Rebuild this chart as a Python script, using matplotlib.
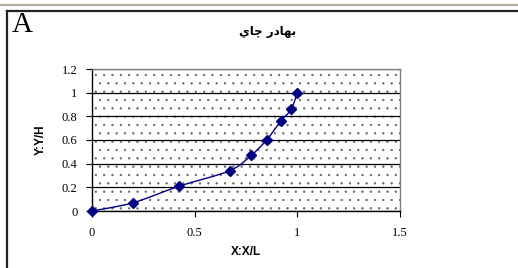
import matplotlib
matplotlib.use("Agg")
import matplotlib.pyplot as plt
import numpy as np
from matplotlib.path import Path
from matplotlib.patches import PathPatch, Rectangle
from matplotlib.lines import Line2D

# data
x_vals = [0.0, 0.20, 0.425, 0.67, 0.775, 0.85, 0.92, 0.97, 1.0]
y_vals = [0.0, 0.07, 0.21, 0.34, 0.47, 0.60, 0.76, 0.86, 1.0]
x_ticks = [0, 0.5, 1, 1.5]
x_tick_labels = ["0", "0.5", "1", "1.5"]
y_ticks = [0, 0.2, 0.4, 0.6, 0.8, 1.0, 1.2]
y_tick_labels = ["0", "0.2", "0.4", "0.6", "0.8", "1", "1.2"]

# title "بهادر چاي", written in shaped presentation forms, visual order
title_text = "\uFEF1\uFE8E\uFB7C \uFEAD\uFEA9\uFE8E\uFEEC\uFE91"
panel_letter = "A"
x_label = "X:X/L"
y_label = "Y:Y/H"

NAVY = "#000080"
plt.rcParams["hatch.linewidth"] = 0.4


def smooth_path(xs, ys):
    # catmull-rom style bezier through the points (like Excel's smoothed line)
    pts = np.column_stack([xs, ys])
    n = len(pts)
    verts = [pts[0]]
    codes = [Path.MOVETO]
    for i in range(n - 1):
        p0 = pts[i - 1] if i > 0 else pts[i]
        p1 = pts[i]
        p2 = pts[i + 1]
        p3 = pts[i + 2] if i + 2 < n else pts[i + 1]
        c1 = p1 + (p2 - p0) / 6.0
        c2 = p2 - (p3 - p1) / 6.0
        verts += [c1, c2, p2]
        codes += [Path.CURVE4] * 3
    return Path(verts, codes)


fig = plt.figure(figsize=(5.18, 2.68), dpi=100)
ax = fig.add_axes([92 / 518, 1 - 211 / 268, 308 / 518, 142 / 268])

bg = Rectangle((0, 0), 1, 1, transform=ax.transAxes, facecolor="white",
               edgecolor="#606060", hatch="..", linewidth=0, zorder=0)
ax.add_patch(bg)

ax.set_xlim(0, 1.5)
ax.set_ylim(0, 1.2)
ax.set_xticks(x_ticks, x_tick_labels, family="Liberation Serif", fontsize=9)
ax.set_yticks(y_ticks, y_tick_labels, family="Liberation Serif", fontsize=9)
ax.tick_params(direction="out", length=4.5, width=0.8, color="black", pad=6)
ax.tick_params(axis="x", pad=7)
ax.yaxis.grid(True, color="black", linewidth=0.9)
ax.set_axisbelow(True)

for side in ("left", "bottom"):
    ax.spines[side].set_color("black")
    ax.spines[side].set_linewidth(1.0)
for side in ("top", "right"):
    ax.spines[side].set_color("#808080")
    ax.spines[side].set_linewidth(1.0)

ax.add_patch(PathPatch(smooth_path(x_vals, y_vals), facecolor="none",
                       edgecolor=NAVY, linewidth=1.0, zorder=3))
ax.plot(x_vals, y_vals, linestyle="none", marker="D", markersize=5,
        color=NAVY, zorder=4, clip_on=False)

ax.set_xlabel(x_label, family="Liberation Sans", fontweight="bold",
              fontsize=8.5, labelpad=5)
ax.set_ylabel(y_label, family="Liberation Sans", fontweight="bold",
              fontsize=8.5, labelpad=11)

fig.text(268 / 518, 1 - 32 / 268, title_text, ha="center", va="center",
         fontsize=8.5, fontweight="bold", family=["DejaVu Sans"])
fig.text(12 / 518, 1 - 25 / 268, panel_letter, ha="left", va="center",
         fontsize=21, family="Liberation Serif")

# page frame around the figure
fig.add_artist(Line2D([0, 1], [1 - 4.5 / 268] * 2, transform=fig.transFigure,
                      color="#b0ab9c", linewidth=1.6))
fig.add_artist(Line2D([7 / 518, 1], [1 - 10.5 / 268] * 2,
                      transform=fig.transFigure, color="#222222", linewidth=1.6))
fig.add_artist(Line2D([7 / 518, 7 / 518], [0, 1 - 10.5 / 268],
                      transform=fig.transFigure, color="#222222", linewidth=1.6))

fig.savefig("out.png", dpi=100)
